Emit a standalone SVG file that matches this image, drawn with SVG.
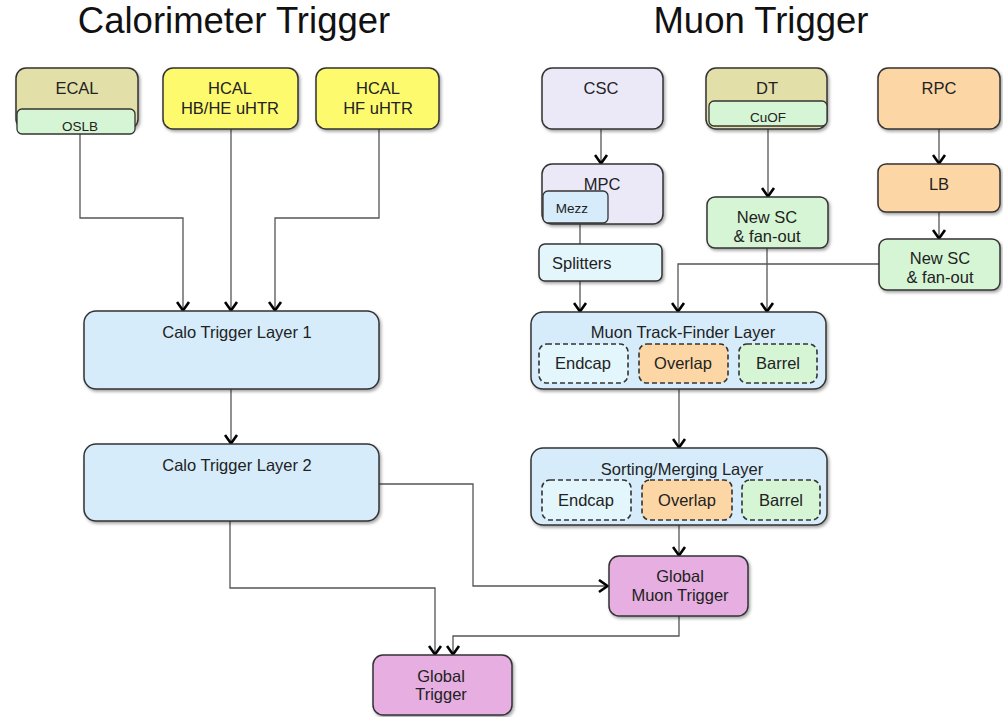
<svg xmlns="http://www.w3.org/2000/svg" width="1003" height="717" viewBox="0 0 1003 717">
<defs>
<filter id="sh" x="-10%" y="-10%" width="125%" height="130%">
<feDropShadow dx="1.5" dy="2" stdDeviation="1.8" flood-color="#000" flood-opacity="0.35"/>
</filter>
<marker id="ar" viewBox="0 0 12 15" refX="10.5" refY="7.5" markerWidth="12" markerHeight="15" markerUnits="userSpaceOnUse" orient="auto">
<path d="M1.5,1.5 L10,7.5 L1.5,13.5" fill="none" stroke="#000" stroke-width="2.6"/>
</marker>
</defs>
<style>
.title{font-family:"Liberation Sans",Arial,sans-serif;font-size:36.5px;fill:#111;text-anchor:middle}
.t{font-family:"Liberation Sans",Arial,sans-serif;font-size:16.5px;fill:#222;text-anchor:middle}
.s{font-family:"Liberation Sans",Arial,sans-serif;font-size:13.5px;fill:#222;text-anchor:middle}
.box{stroke:#333;stroke-width:1.5;filter:url(#sh)}
.sub{stroke:#333;stroke-width:1.3}
.dash{stroke:#333;stroke-width:1.6;stroke-dasharray:5,3}
.c{fill:none;stroke:#555;stroke-width:1.3}
.ca{fill:none;stroke:#555;stroke-width:1.3;marker-end:url(#ar)}
.blue{fill:#d6ecfb}
.pink{fill:#e6aee1}
.yellow{fill:#fdfa6e}
.olive{fill:#e3dfa8}
.green{fill:#d5f5d5}
.lav{fill:#ebe9f8}
.orange{fill:#fdd6a5}
.ice{fill:#e2f6fc}
</style>
<rect width="1003" height="717" fill="#fff"/>
<text class="title" x="234" y="33">Calorimeter Trigger</text>
<text class="title" x="761" y="33">Muon Trigger</text>

<g id="connectors">
<path class="ca" d="M80,134 V218 H183 V311"/>
<path class="ca" d="M231,129 V311"/>
<path class="ca" d="M379,129 V218 H275 V311"/>
<path class="ca" d="M231,389 V444"/>
<path class="ca" d="M379,484 H473 V586 H608"/>
<path class="ca" d="M230,521 V588 H435 V655"/>
<path class="ca" d="M679,616 V636 H453 V655"/>
<path class="ca" d="M601,129 V164"/>
<path class="c" d="M580,223 V244"/>
<path class="ca" d="M580,281 V312"/>
<path class="ca" d="M768,126 V197"/>
<path class="ca" d="M767,248 V312"/>
<path class="ca" d="M939,129 V164"/>
<path class="ca" d="M939,212 V239"/>
<path class="ca" d="M879,264 H678 V312"/>
<path class="ca" d="M679,389 V448"/>
<path class="ca" d="M679,525 V556"/>
</g>

<g id="ecal">
<rect class="box olive" x="16" y="68" width="122" height="61" rx="10"/>
<text class="t" x="77" y="94">ECAL</text>
<rect class="sub green" x="17" y="109" width="118" height="25" rx="5"/>
<text class="s" x="80" y="131">OSLB</text>
</g>
<g id="hcal-hbhe">
<rect class="box yellow" x="163" y="68" width="135" height="61" rx="10"/>
<text class="t" x="230" y="94">HCAL</text>
<text class="t" x="230" y="114">HB/HE uHTR</text>
</g>
<g id="hcal-hf">
<rect class="box yellow" x="316" y="68" width="123" height="61" rx="10"/>
<text class="t" x="378" y="94">HCAL</text>
<text class="t" x="378" y="114">HF uHTR</text>
</g>
<g id="calo-l1">
<rect class="box blue" x="84" y="311" width="295" height="78" rx="12"/>
<text class="t" x="237" y="338">Calo Trigger Layer 1</text>
</g>
<g id="calo-l2">
<rect class="box blue" x="84" y="444" width="295" height="77" rx="12"/>
<text class="t" x="237" y="471">Calo Trigger Layer 2</text>
</g>
<g id="csc">
<rect class="box lav" x="542" y="68" width="121" height="61" rx="10"/>
<text class="t" x="601" y="94">CSC</text>
</g>
<g id="mpc">
<rect class="box lav" x="542" y="164" width="121" height="60" rx="10"/>
<text class="t" x="602" y="190">MPC</text>
<rect class="sub blue" x="543" y="191" width="65" height="32" rx="5"/>
<text class="s" x="572" y="213">Mezz</text>
</g>
<g id="splitters">
<rect class="box ice" x="539" y="244" width="123" height="37" rx="6"/>
<text class="t" x="552" y="269" style="text-anchor:start">Splitters</text>
</g>
<g id="dt">
<rect class="box olive" x="706" y="68" width="121" height="61" rx="10"/>
<text class="t" x="767" y="94">DT</text>
<rect class="sub green" x="709" y="101" width="118" height="25" rx="5"/>
<text class="s" x="768" y="122">CuOF</text>
</g>
<g id="newsc-dt">
<rect class="box green" x="707" y="197" width="121" height="51" rx="8"/>
<text class="t" x="767" y="223">New SC</text>
<text class="t" x="767" y="242">&amp; fan-out</text>
</g>
<g id="rpc">
<rect class="box orange" x="878" y="68" width="122" height="61" rx="10"/>
<text class="t" x="939" y="94">RPC</text>
</g>
<g id="lb">
<rect class="box orange" x="878" y="164" width="122" height="48" rx="8"/>
<text class="t" x="939" y="190">LB</text>
</g>
<g id="newsc-rpc">
<rect class="box green" x="879" y="239" width="121" height="51" rx="8"/>
<text class="t" x="940" y="264">New SC</text>
<text class="t" x="940" y="283">&amp; fan-out</text>
</g>
<g id="muon-tf">
<rect class="box blue" x="531" y="312" width="295" height="77" rx="12"/>
<text class="t" x="683" y="338">Muon Track-Finder Layer</text>
<rect class="dash ice" x="539" y="344" width="89" height="39" rx="8"/>
<text class="t" x="583" y="369">Endcap</text>
<rect class="dash orange" x="639" y="344" width="89" height="39" rx="8"/>
<text class="t" x="683" y="369">Overlap</text>
<rect class="dash green" x="739" y="344" width="78" height="39" rx="8"/>
<text class="t" x="778" y="369">Barrel</text>
</g>
<g id="sort-merge">
<rect class="box blue" x="531" y="448" width="296" height="77" rx="12"/>
<text class="t" x="682" y="475">Sorting/Merging Layer</text>
<rect class="dash ice" x="542" y="480" width="89" height="40" rx="8"/>
<text class="t" x="586" y="506">Endcap</text>
<rect class="dash orange" x="642" y="480" width="90" height="40" rx="8"/>
<text class="t" x="687" y="506">Overlap</text>
<rect class="dash green" x="742" y="480" width="78" height="40" rx="8"/>
<text class="t" x="781" y="506">Barrel</text>
</g>
<g id="gmt">
<rect class="box pink" x="609" y="556" width="139" height="60" rx="10"/>
<text class="t" x="680" y="582">Global</text>
<text class="t" x="680" y="601">Muon Trigger</text>
</g>
<g id="gt">
<rect class="box pink" x="373" y="655" width="139" height="60" rx="10"/>
<text class="t" x="441" y="682">Global</text>
<text class="t" x="441" y="700">Trigger</text>
</g>
</svg>
